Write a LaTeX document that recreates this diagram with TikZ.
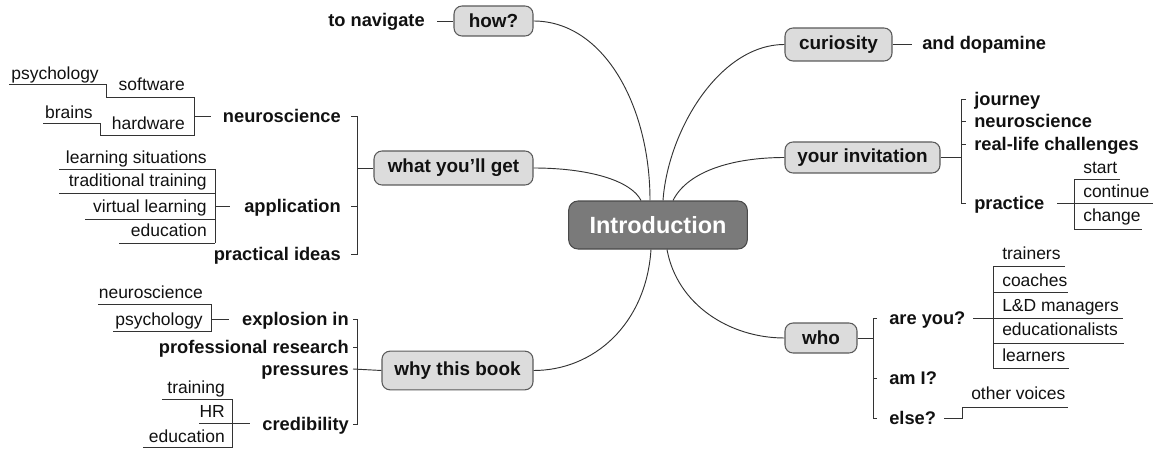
\documentclass[tikz,border=0pt]{standalone}
\usepackage{fontspec}
\setmainfont{Liberation Sans}
\definecolor{ink}{HTML}{111111}
\definecolor{wire}{HTML}{333333}
\definecolor{boxfill}{HTML}{DCDCDC}
\definecolor{boxline}{HTML}{5A5A5A}
\definecolor{hubfill}{HTML}{7A7A7A}
\definecolor{hubline}{HTML}{4A4A4A}
\begin{document}
\begin{tikzpicture}[x=0.75pt,y=-0.75pt,
  conn/.style={draw=wire,line width=0.7pt},
  branch/.style={font=\fontsize{13.7}{16}\selectfont\bfseries,text=ink,inner sep=0pt,yshift=-2.4pt},
  leaf/.style={font=\fontsize{13.1}{15}\selectfont,text=ink,inner sep=0pt,yshift=-2.4pt},
  topic/.style={draw=boxline,fill=boxfill,line width=0.8pt,rounded corners=6pt,
    font=\fontsize{14.2}{17}\selectfont\bfseries,text=ink,inner sep=0pt},
  hub/.style={draw=hubline,fill=hubfill,line width=0.8pt,rounded corners=7pt,
    font=\fontsize{17.6}{20}\selectfont\bfseries,text=white,inner sep=0pt}]
\useasboundingbox (0,0) rectangle (1156,449);

% ---- centre and main topics ----
\node[hub,minimum width=134pt,minimum height=36pt] (intro) at (658,225) {Introduction};
\node[topic,minimum width=59.25pt,minimum height=22.5pt] (how) at (493.5,21) {how?};
\node[topic,minimum width=119.25pt,minimum height=25.5pt] (what) at (453.5,168) {what you’ll get};
\node[topic,minimum width=113.25pt,minimum height=29pt] (why) at (457.5,370.5) {why this book};
\node[topic,minimum width=80.25pt,minimum height=24.75pt] (cur) at (838.5,44.5) {curiosity};
\node[topic,minimum width=116.25pt,minimum height=23.25pt] (inv) at (862.5,157.5) {your invitation};
\node[topic,minimum width=54pt,minimum height=22.5pt] (who) at (821,338) {who};

% ---- curved connectors from the centre ----
\draw[conn] (how.east) .. controls +(70,0) and +(0,-95) .. ([xshift=-6pt]intro.north);
\draw[conn] (what.east) .. controls +(55,0) and +(-10,-20) .. ([xshift=-12.75pt]intro.north);
\draw[conn] ([xshift=3.75pt]intro.north) .. controls +(5,-70) and +(-65,0) .. (cur.west);
\draw[conn] ([xshift=11.25pt]intro.north) .. controls +(15,-30) and +(-50,0) .. (inv.west);
\draw[conn] ([xshift=-5.25pt]intro.south) .. controls +(-5,75) and +(60,0) .. (why.east);
\draw[conn] ([xshift=6.75pt]intro.south) .. controls +(10,55) and +(-55,0) .. (who.west);

% ---- how? ----
\node[branch,anchor=mid east] (nav) at (425,20) {to navigate};
\draw[conn] (437,21) -- (how.west);

% ---- curiosity ----
\node[branch,anchor=mid west] (dopa) at (922,43) {and dopamine};
\draw[conn] (cur.east) -- (912,44.5);

% ---- what you'll get ----
\node[branch,anchor=mid east] (wneuro) at (341,116) {neuroscience};
\node[branch,anchor=mid east] (wapp) at (341,206) {application};
\node[branch,anchor=mid east] (wprac) at (341,254) {practical ideas};
\draw[conn] (351,116) -- (357,116) -- (357,254) -- (351,254);
\draw[conn] (351,206) -- (357,206);
\draw[conn] (357,168) -- (what.west);

\node[leaf,anchor=mid east] (soft) at (185,84) {software};
\node[leaf,anchor=mid east] (psy1) at (99,73) {psychology};
\node[leaf,anchor=mid east] (hard) at (185,123) {hardware};
\node[leaf,anchor=mid east] (brain) at (93,112) {brains};
\draw[conn] (9,84) -- (106,84) -- (106,97) -- (194,97) -- (194,135) -- (100,135) -- (100,123) -- (43,123);
\draw[conn] (194,116) -- (211,116);

\node[leaf,anchor=mid east] (lsit) at (207,157) {learning situations};
\node[leaf,anchor=mid east] (trad) at (207,180) {traditional training};
\node[leaf,anchor=mid east] (virt) at (207,206) {virtual learning};
\node[leaf,anchor=mid east] (edu1) at (207,230) {education};
\draw[conn] (59,169) -- (215,169);
\draw[conn] (59,193) -- (215,193);
\draw[conn] (85,219) -- (215,219);
\draw[conn] (119,243) -- (215,243);
\draw[conn] (215,169) -- (215,243);
\draw[conn] (215,206) -- (230,206);

% ---- why this book ----
\node[branch,anchor=mid east] (expl) at (349,319) {explosion in};
\node[branch,anchor=mid east] (prof) at (349,347) {professional research};
\node[branch,anchor=mid east] (pres) at (349,369) {pressures};
\node[branch,anchor=mid east] (cred) at (349,424) {credibility};
\draw[conn] (353,319) -- (357,319) -- (357,424) -- (353,424);
\draw[conn] (353,347) -- (357,347);
\draw[conn] (353,369) -- (why.west);

\node[leaf,anchor=mid east] (neu2) at (203,292) {neuroscience};
\node[leaf,anchor=mid east] (psy2) at (203,319) {psychology};
\draw[conn] (98,304) -- (211,304) -- (211,331) -- (113,331);
\draw[conn] (211,319) -- (229,319);

\node[leaf,anchor=mid east] (train) at (225,387) {training};
\node[leaf,anchor=mid east] (hr) at (225,411) {HR};
\node[leaf,anchor=mid east] (edu2) at (225,436) {education};
\draw[conn] (162,399) -- (232,399) -- (232,447) -- (143,447);
\draw[conn] (199,423) -- (250,423);

% ---- your invitation ----
\node[branch,anchor=mid west] (jour) at (974,99) {journey};
\node[branch,anchor=mid west] (ineu) at (974,121) {neuroscience};
\node[branch,anchor=mid west] (real) at (974,144) {real-life challenges};
\node[branch,anchor=mid west] (prac) at (974,203) {practice};
\draw[conn] (966,99) -- (961,99) -- (961,203) -- (966,203);
\draw[conn] (961,121) -- (966,121);
\draw[conn] (961,144) -- (966,144);
\draw[conn] (inv.east) -- (961,157.5);

\node[leaf,anchor=mid west] (start) at (1083,167) {start};
\node[leaf,anchor=mid west] (cont) at (1083,191) {continue};
\node[leaf,anchor=mid west] (chg) at (1083,215) {change};
\draw[conn] (1120,179) -- (1074,179) -- (1074,229) -- (1142,229);
\draw[conn] (1057,203) -- (1153,203);

% ---- who ----
\node[branch,anchor=mid west] (areyou) at (889,318) {are you?};
\node[branch,anchor=mid west] (ami) at (889,378) {am I?};
\node[branch,anchor=mid west] (else) at (889,418) {else?};
\draw[conn] (877,318) -- (873,318) -- (873,418) -- (877,418);
\draw[conn] (873,378) -- (877,378);
\draw[conn] (who.east) -- (873,338);

\node[leaf,anchor=mid west] (trn) at (1002,253) {trainers};
\node[leaf,anchor=mid west] (coa) at (1002,280) {coaches};
\node[leaf,anchor=mid west] (ld) at (1002,305) {L\&D managers};
\node[leaf,anchor=mid west] (educ) at (1002,329) {educationalists};
\node[leaf,anchor=mid west] (lrn) at (1002,355) {learners};
\draw[conn] (1065,266) -- (993,266) -- (993,368) -- (1069,368);
\draw[conn] (993,292) -- (1068,292);
\draw[conn] (993,343) -- (1124,343);
\draw[conn] (973,318) -- (1123,318);

\node[leaf,anchor=mid west] (voices) at (971,393) {other voices};
\draw[conn] (944,418) -- (962,418) -- (962,407) -- (1068,407);
\end{tikzpicture}
\end{document}
